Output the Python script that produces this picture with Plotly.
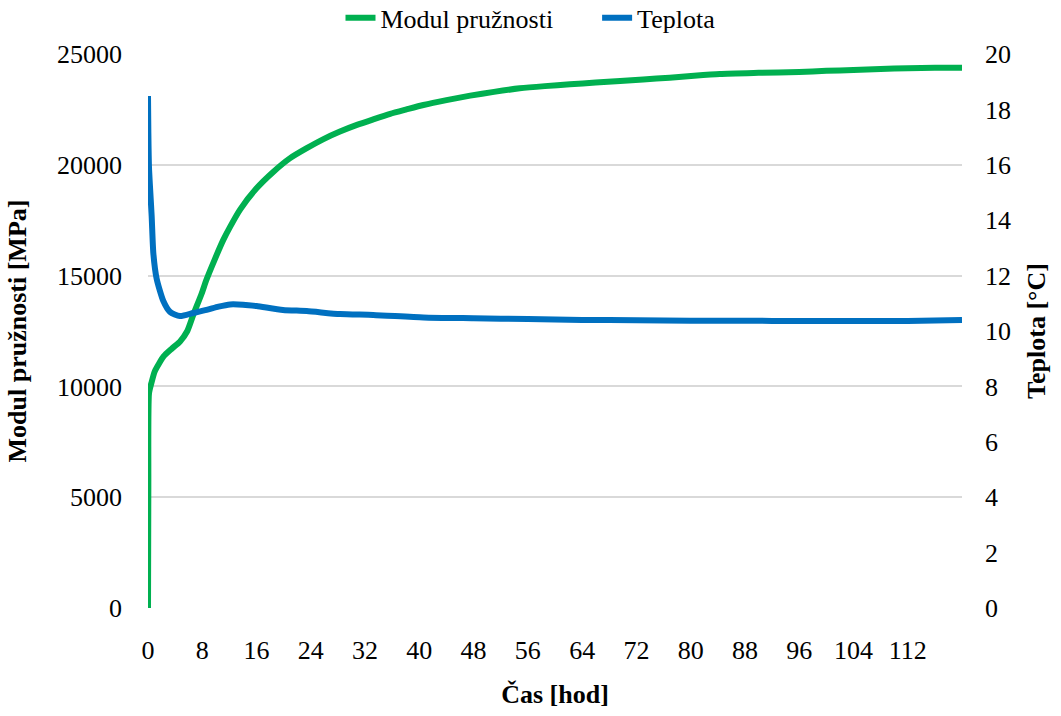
import plotly.graph_objects as go

# Time [h] and modulus [MPa]
cas_modul = [0, 0.05, 0.15, 0.5, 1.0, 2.3, 3.5, 4.7, 5.8, 6.7, 7.9, 8.6, 9.8, 11.1, 12.1, 13.6,
             16.0, 18.5, 20.9, 23.4, 25.8, 28.3, 30.8, 33.2, 35.7, 38.1, 40.6, 44, 47.5, 51,
             54.8, 58.5, 62.2, 66, 69.6, 73, 76.9, 80.5, 84.3, 90, 96, 100, 104, 108, 112,
             116, 120]
modul = [0, 5500, 9700, 10150, 10680, 11350, 11700, 12020, 12500, 13250, 14180, 14800, 15700,
         16610, 17200, 17990, 18940, 19690, 20290, 20750, 21150, 21500, 21800, 22050, 22300,
         22500, 22700, 22920, 23120, 23290, 23450, 23550, 23630, 23710, 23780, 23850, 23930,
         24020, 24100, 24150, 24190, 24240, 24280, 24320, 24360, 24380, 24380]

# Time [h] and temperature [°C]
cas_teplota = [0, 0.05, 0.15, 0.54, 0.79, 1.28, 2.26, 3.24, 4.7, 6.68, 8.64, 10.4, 12.1, 14,
               16.0, 19.9, 23.4, 28.3, 33.2, 40.6, 48, 56, 64, 72, 80, 88, 96, 104, 112, 120]
teplota = [18.48, 17.2, 15.88, 14.15, 12.8, 11.88, 11.08, 10.69, 10.54, 10.65, 10.76, 10.88,
           10.96, 10.95, 10.90, 10.76, 10.72, 10.61, 10.58, 10.49, 10.46, 10.43, 10.40, 10.39,
           10.37, 10.37, 10.36, 10.36, 10.36, 10.40]

x_ticks = list(range(0, 113, 8))
left_ticks = [0, 5000, 10000, 15000, 20000, 25000]
right_ticks = list(range(0, 21, 2))

FONT = "'Liberation Serif', 'Times New Roman', Times, serif"
FS = 26
GREEN = "#00B050"
BLUE = "#0070C0"
NB = "\u00a0"

fig = go.Figure()
fig.add_trace(go.Scatter(x=cas_modul, y=modul, name="Modul pružnosti" + NB * 6, mode="lines",
                         line=dict(color=GREEN, width=6, shape="spline", smoothing=0.6),
                         yaxis="y"))
fig.add_trace(go.Scatter(x=cas_teplota, y=teplota, name="Teplota", mode="lines",
                         line=dict(color=BLUE, width=6, shape="spline", smoothing=0.6),
                         yaxis="y2"))

fig.update_layout(
    width=1061, height=716,
    margin=dict(l=148, r=99, t=54, b=108, autoexpand=False),
    paper_bgcolor="white", plot_bgcolor="white",
    font=dict(family=FONT, size=FS, color="#000000"),
    showlegend=True,
    legend=dict(orientation="h", x=0.5, xanchor="center", xref="container",
                y=0.975, yanchor="middle", yref="container",
                font=dict(family=FONT, size=FS), bgcolor="rgba(0,0,0,0)"),
    xaxis=dict(range=[0, 120], tickvals=x_ticks, ticktext=[str(v) for v in x_ticks],
               showgrid=False, zeroline=False, showline=False, ticks="",
               ticklabelstandoff=24,
               title=dict(text="<b>Čas [hod]</b>", standoff=20,
                          font=dict(family=FONT, size=FS))),
    yaxis=dict(range=[0, 25000], tickvals=left_ticks, ticktext=[str(v) for v in left_ticks],
               showgrid=True, gridcolor="#D9D9D9", gridwidth=1.5, zeroline=False,
               showline=False, ticks="", ticklabelstandoff=25,
               title=dict(text="<b>Modul pružnosti [MPa]</b>", standoff=22,
                          font=dict(family=FONT, size=FS))),
    yaxis2=dict(range=[0, 20], tickvals=right_ticks, ticktext=[str(v) for v in right_ticks],
                overlaying="y", side="right", showgrid=False, zeroline=False,
                showline=False, ticks="", ticklabelstandoff=22,
                title=dict(text="<b>Teplota [°C]</b>", standoff=16,
                           font=dict(family=FONT, size=FS))),
)

fig.write_html("out.html")
